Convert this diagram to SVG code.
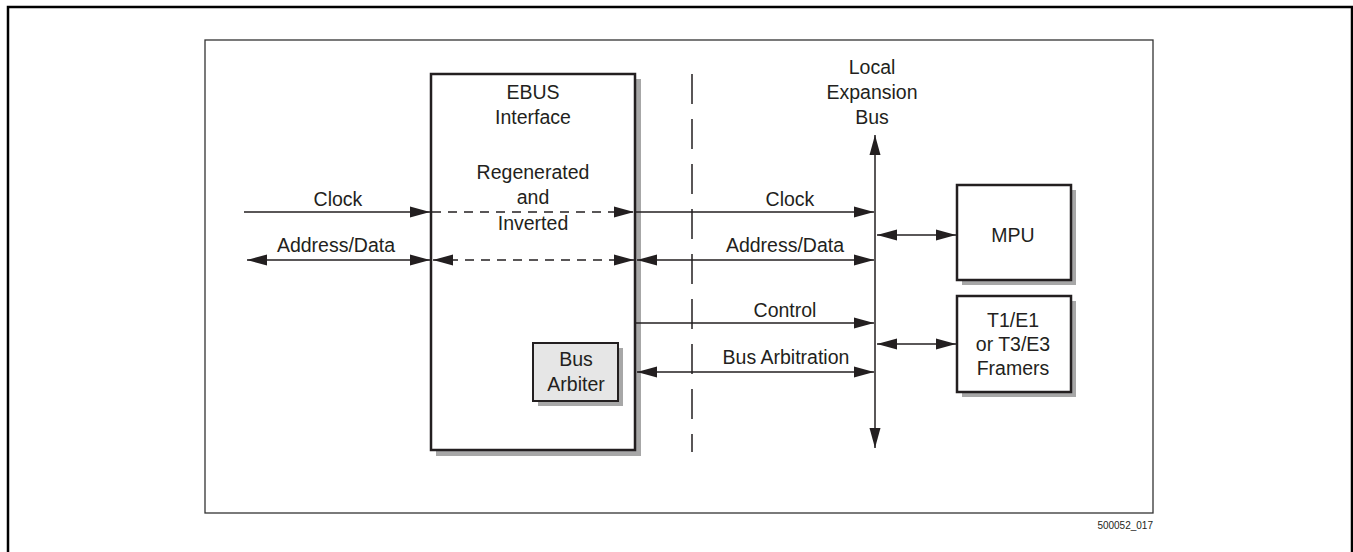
<svg xmlns="http://www.w3.org/2000/svg" width="1353" height="552" viewBox="0 0 1353 552">
<style>
text{font-family:"Liberation Sans",Arial,Helvetica,sans-serif;font-size:19.5px;fill:#231f20;text-anchor:middle}
.box{fill:#fff;stroke:#231f20;stroke-width:2.5}
.shadow{fill:#a7a7a7}
.ln{stroke:#231f20;stroke-width:1.5;fill:none}
.dash{stroke:#231f20;stroke-width:1.5;fill:none;stroke-dasharray:9 7}
.arr{marker-end:url(#ah)}
.both{marker-start:url(#ah);marker-end:url(#ah)}
</style>
<defs>
<marker id="ah" markerUnits="userSpaceOnUse" markerWidth="21" markerHeight="12" refX="20" refY="6" orient="auto-start-reverse" viewBox="0 0 21 12">
<path d="M0,0.5 L20,6 L0,11.5 z" fill="#231f20"/>
</marker>
</defs>
<rect x="8" y="7" width="1344" height="600" fill="none" stroke="#000" stroke-width="2.5"/>
<rect x="205" y="40" width="948" height="473" fill="none" stroke="#333" stroke-width="1.3"/>
<text x="1153" y="529" style="font-size:10px;text-anchor:end">500052_017</text>

<g id="ebus">
<rect class="shadow" x="436" y="79" width="205" height="377"/>
<rect class="box" x="431" y="74" width="204" height="376"/>
<text x="533" y="99">EBUS</text>
<text x="533" y="124">Interface</text>
<text x="533" y="179">Regenerated</text>
<text x="533" y="204">and</text>
<text x="533" y="230">Inverted</text>
</g>
<g id="arbiter">
<rect class="shadow" x="538" y="348" width="85" height="58"/>
<rect x="533" y="343" width="85" height="58" fill="#e6e6e6" stroke="#231f20" stroke-width="2"/>
<text x="576" y="366">Bus</text>
<text x="576" y="391">Arbiter</text>
</g>
<g id="mpu">
<rect class="shadow" x="962" y="190" width="114" height="95"/>
<rect class="box" x="957" y="185" width="114" height="95"/>
<text x="1013" y="242">MPU</text>
</g>
<g id="framers">
<rect class="shadow" x="962" y="301" width="114" height="96"/>
<rect class="box" x="957" y="296" width="114" height="96"/>
<text x="1013" y="327">T1/E1</text>
<text x="1013" y="351">or T3/E3</text>
<text x="1013" y="375">Framers</text>
</g>
<g id="bus-label">
<text x="872" y="74">Local</text>
<text x="872" y="99">Expansion</text>
<text x="872" y="124">Bus</text>
</g>

<g id="connectors">
<line x1="692" y1="74" x2="692" y2="452" stroke="#231f20" stroke-width="1.5" stroke-dasharray="30 15"/>
<line class="ln both" x1="875" y1="135" x2="875" y2="448"/>
<line class="ln arr" x1="244" y1="212" x2="430" y2="212"/>
<line class="ln both" x1="247" y1="260" x2="430" y2="260"/>
<line class="dash arr" x1="432" y1="212" x2="634" y2="212"/>
<line class="dash both" x1="433" y1="260" x2="634" y2="260"/>
<line class="ln arr" x1="636" y1="212" x2="874" y2="212"/>
<line class="ln both" x1="637" y1="260" x2="874" y2="260"/>
<line class="ln arr" x1="636" y1="323" x2="874" y2="323"/>
<line class="ln both" x1="637" y1="372" x2="874" y2="372"/>
<line class="ln both" x1="877" y1="235" x2="956" y2="235"/>
<line class="ln both" x1="877" y1="344" x2="956" y2="344"/>
</g>
<g id="connector-labels">
<text x="338" y="206">Clock</text>
<text x="336" y="252">Address/Data</text>
<text x="790" y="206">Clock</text>
<text x="785" y="252">Address/Data</text>
<text x="785" y="317">Control</text>
<text x="786" y="364">Bus Arbitration</text>
</g>
</svg>
